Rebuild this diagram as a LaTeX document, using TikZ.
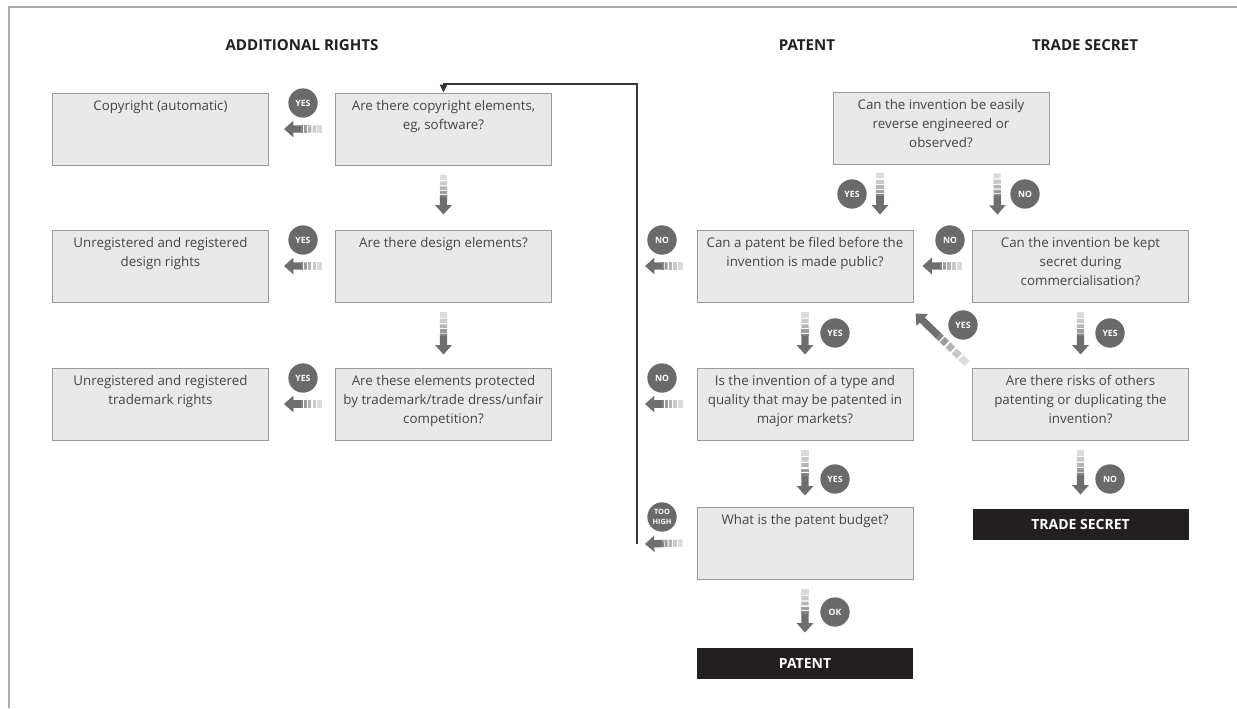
\documentclass[tikz,border=0pt]{standalone}
\usepackage{fontspec}
\setmainfont{Open Sans}
\usetikzlibrary{arrows.meta,calc}

\definecolor{boxfill}{HTML}{E9E9E9}
\definecolor{boxline}{HTML}{9A9A9A}
\definecolor{txt}{HTML}{444444}
\definecolor{agray}{HTML}{6E6E6E}
\definecolor{badge}{HTML}{6A6A6A}
\definecolor{ink}{HTML}{231F20}
\definecolor{framec}{HTML}{ABABAB}

\newcommand\qt[1]{\parbox[c][48pt][t]{156pt}{\centering\rule{0pt}{10pt}#1}}

% thick arrow: solid near the head, fading stripes towards the tail
\newcommand\fatarrow[2]{%
  \draw[line width=5.5pt, agray, -{Triangle[width=12pt,length=7pt]}]
    ($(#1)!0.55!(#2)$) -- (#2);
  \foreach \a/\b/\c in {0/0.12/25, 0.15/0.25/37, 0.28/0.37/52, 0.40/0.48/68, 0.50/0.56/85}{%
    \draw[line width=5.5pt, agray!\c] ($(#1)!\a!(#2)$) -- ($(#1)!\b!(#2)$);}%
}

\begin{document}
\begin{tikzpicture}[x=0.75pt,y=-0.75pt,
  qbox/.style={draw=boxline, fill=boxfill, line width=0.7pt, inner xsep=3pt, inner ysep=3pt,
    text=txt, font=\fontsize{10pt}{14.25pt}\selectfont},
  endbox/.style={fill=ink, text=white, minimum width=162pt, minimum height=23.5pt,
    inner sep=0pt, font=\bfseries\fontsize{10.5pt}{12pt}\selectfont},
  badgenode/.style={circle, fill=badge, text=white, minimum size=22pt, inner sep=0pt,
    font=\bfseries\fontsize{6.5pt}{6.5pt}\selectfont, align=center},
  head/.style={text=ink, font=\bfseries\fontsize{11.3pt}{13pt}\selectfont},
  loopline/.style={draw=ink!90, line width=0.9pt, -{Triangle[width=5.5pt,length=6pt]}},
  framel/.style={draw=framec, line width=1.6pt}]
\useasboundingbox (0,0) rectangle (1237,708);
\draw[framel] (9,708) -- (9,7) -- (1237,7);

% column headings
\node[head] (hadd) at (302,45) {ADDITIONAL RIGHTS};
\node[head] (hpat) at (807,45) {PATENT};
\node[head] (hts)  at (1085,45) {TRADE SECRET};

% additional rights
\node[qbox] (c1) at (160.5,129) {\qt{Copyright (automatic)}};
\node[qbox] (c2) at (160.5,266) {\qt{Unregistered and registered\\design rights}};
\node[qbox] (c3) at (160.5,404) {\qt{Unregistered and registered\\trademark rights}};
\node[qbox] (m1) at (443.5,129) {\qt{Are there copyright elements,\\eg, software?}};
\node[qbox] (m2) at (443.5,266) {\qt{Are there design elements?}};
\node[qbox] (m3) at (443.5,404) {\qt{Are these elements protected\\by trademark/trade dress/unfair\\competition?}};

% patent
\node[qbox] (p1) at (805,266) {\qt{Can a patent be filed before the\\invention is made public?}};
\node[qbox] (p2) at (805,404) {\qt{Is the invention of a type and\\quality that may be patented in\\major markets?}};
\node[qbox] (p3) at (805,543) {\qt{What is the patent budget?}};
\node[endbox] (pat) at (805,663.5) {PATENT};

% trade secret
\node[qbox] (t0) at (941,128) {\qt{Can the invention be easily\\reverse engineered or\\observed?}};
\node[qbox] (t1) at (1080.5,266) {\qt{Can the invention be kept\\secret during\\commercialisation?}};
\node[qbox] (t2) at (1080.5,404) {\qt{Are there risks of others\\patenting or duplicating the\\invention?}};
\node[endbox] (ts) at (1080.5,524.5) {TRADE SECRET};

% additional rights arrows
\fatarrow{$(m1.west)+(-13,0)$}{$(c1.east)+(15,0)$}
\fatarrow{$(m2.west)+(-13,0)$}{$(c2.east)+(15,0)$}
\fatarrow{$(m3.west)+(-13,0)$}{$(c3.east)+(15,0)$}
\node[badgenode] (y1) at (303,103) {YES};
\node[badgenode] (y2) at (303,240) {YES};
\node[badgenode] (y3) at (303,378) {YES};
\fatarrow{$(m1.south)+(0,10)$}{$(m2.north)+(0,-15)$}
\fatarrow{$(m2.south)+(0,10)$}{$(m3.north)+(0,-13)$}

% patent arrows, feeding the line back to the copyright question
\coordinate (loopbot) at (637,544);
\coordinate (looptop) at (637,84);
\fatarrow{$(p1.west)+(-14,0)$}{$(loopbot|-p1.west)+(8,0)$}
\fatarrow{$(p2.west)+(-14,0)$}{$(loopbot|-p2.west)+(8,0)$}
\fatarrow{$(p3.west)+(-14,0)$}{$(loopbot)+(8,0)$}
\node[badgenode] (n1) at (662,240) {NO};
\node[badgenode] (n2) at (662,378) {NO};
\node[badgenode] (n3) at (662,517) {\fontsize{5.5pt}{5.5pt}\selectfont TOO\\[0.5pt]\fontsize{5.5pt}{5.5pt}\selectfont HIGH};
\draw[loopline] (loopbot) -- (looptop) -- (m1.north|-looptop) -- (m1.north);

\fatarrow{$(p1.south)+(0,10)$}{$(p2.north)+(0,-13)$}
\fatarrow{$(p2.south)+(0,10)$}{$(p3.north)+(0,-11)$}
\fatarrow{$(p3.south)+(0,10)$}{$(pat.north)+(0,-15)$}
\node[badgenode] (y4) at (835,333) {YES};
\node[badgenode] (y5) at (835,479) {YES};
\node[badgenode] (ok) at (835,612) {OK};

% trade secret arrows
\fatarrow{$(t0.south)+(-61,9)$}{$(p1.north)+(75,-15)$}
\fatarrow{$(t0.south)+(56,9)$}{$(t1.north)+(-83,-15)$}
\node[badgenode] (y6) at (852,194) {YES};
\node[badgenode] (n4) at (1025,194) {NO};
\fatarrow{$(t1.west)+(-10,0)$}{$(p1.east)+(9,0)$}
\node[badgenode] (n5) at (950,240) {NO};
\fatarrow{$(t2.north west)+(-5,-4)$}{$(p1.south east)+(2,11)$}
\node[badgenode] (y7) at (963,325) {YES};
\fatarrow{$(t1.south)+(0,10)$}{$(t2.north)+(0,-13)$}
\fatarrow{$(t2.south)+(0,10)$}{$(ts.north)+(0,-14)$}
\node[badgenode] (y8) at (1110,333) {YES};
\node[badgenode] (n6) at (1110,479) {NO};
\end{tikzpicture}
\end{document}
